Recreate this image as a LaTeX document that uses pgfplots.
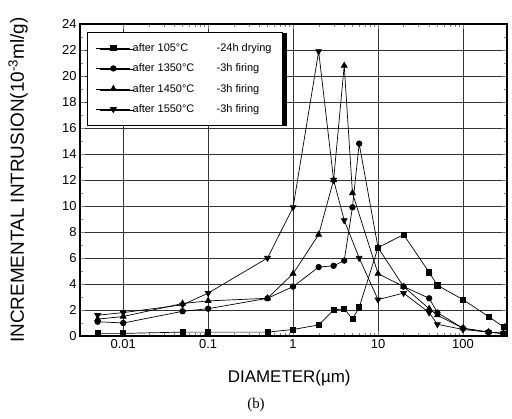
\documentclass[border=0pt]{standalone}
\usepackage{fontspec}
\setmainfont{Liberation Sans}
\newfontfamily\serifb{Liberation Serif}
\usepackage{pgfplots}
\pgfplotsset{compat=1.18}
\usetikzlibrary{shadows}

% drying and firing series (diameter in um, intrusion in 10^-3 ml/g)
\pgfplotstableread{
x y
0.005 0.2
0.01 0.2
0.05 0.3
0.1 0.3
0.5 0.3
1 0.5
2 0.85
3 2.0
4 2.1
5 1.3
6 2.2
10 6.8
20 7.8
40 4.9
50 3.9
100 2.8
200 1.5
300 0.7
}\drying
\pgfplotstableread{
x y
0.005 1.1
0.01 1.0
0.05 1.9
0.1 2.1
0.5 2.9
1 3.8
2 5.3
3 5.4
4 5.8
5 9.9
6 14.8
10 6.8
20 3.8
40 2.9
50 1.8
100 0.6
200 0.3
300 0.2
}\fireA
\pgfplotstableread{
x y
0.005 1.3
0.01 1.5
0.05 2.5
0.1 2.7
0.5 2.9
1 4.8
2 7.8
3 12.0
4 20.8
5 11.0
10 4.8
20 3.8
40 2.1
50 1.6
100 0.6
200 0.3
300 0.2
}\fireB
\pgfplotstableread{
x y
0.005 1.6
0.01 1.8
0.05 2.4
0.1 3.3
0.5 6.0
1 9.9
2 21.9
3 12.0
4 8.9
6 6.0
10 2.8
20 3.3
40 1.8
50 0.9
100 0.5
200 0.3
300 0.2
}\fireC

\begin{document}
\begin{tikzpicture}
\begin{axis}[
    at={(0,0)}, anchor=south west,
    scale only axis, width=427bp, height=312bp,
    xmode=log, xmin=0.0031, xmax=330,
    ymin=0, ymax=24,
    xtick={0.01,0.1,1,10,100},
    xticklabels={0.01,0.1,1,10,100},
    ytick={0,2,...,24},
    minor y tick num=1,
    tick align=inside,
    major tick length=5bp, minor tick length=3bp,
    grid=major,
    grid style={black!80, line width=0.8pt},
    axis line style={line width=1.1pt},
    ticklabel style={font=\fontsize{13}{15}\selectfont},
    /pgf/number format/assume math mode=true,
    xlabel={DIAMETER(µm)},
    xlabel style={at={(axis description cs:0.49,0)}, anchor=center, yshift=-42bp,
        font=\fontsize{17}{19}\selectfont},
    ylabel={INCREMENTAL INTRUSION(10\textsuperscript{-3}ml/g)},
    ylabel style={at={(axis description cs:-0.145,0.5)}, anchor=center,
        font=\fontsize{19}{21}\selectfont},
    legend cell align=left,
    legend style={at={(axis description cs:0.016,0.974)}, anchor=north west,
        font=\fontsize{11}{13}\selectfont, draw=black, fill=white,
        inner xsep=9bp, inner ysep=9bp, row sep=7bp,
        drop shadow={shadow xshift=4bp, shadow yshift=-1bp, fill=black, opacity=1}},
    legend image code/.code={\draw[mark repeat=2, mark phase=2, #1]
        plot coordinates {(0bp,0bp) (17bp,0bp) (34bp,0bp)};},
    every axis plot/.append style={black, line width=0.7pt},
]
\addplot[mark=square*, mark size=2.6] table {\drying};
\addlegendentry{\makebox[84bp][l]{after 105°C}-24h drying}
\addplot[mark=*, mark size=2.8] table {\fireA};
\addlegendentry{\makebox[84bp][l]{after 1350°C}-3h firing}
\addplot[mark=triangle*, mark size=3.4] table {\fireB};
\addlegendentry{\makebox[84bp][l]{after 1450°C}-3h firing}
\addplot[mark=triangle*, mark options={rotate=180}, mark size=3.4] table {\fireC};
\addlegendentry{\makebox[84bp][l]{after 1550°C}-3h firing}
\end{axis}
\node[font=\serifb\fontsize{15}{17}\selectfont] at (176bp,-69bp) {(b)};
\pgfresetboundingbox
\path[use as bounding box] (-80bp,-83bp) rectangle (432bp,336bp);
\end{tikzpicture}
\end{document}
